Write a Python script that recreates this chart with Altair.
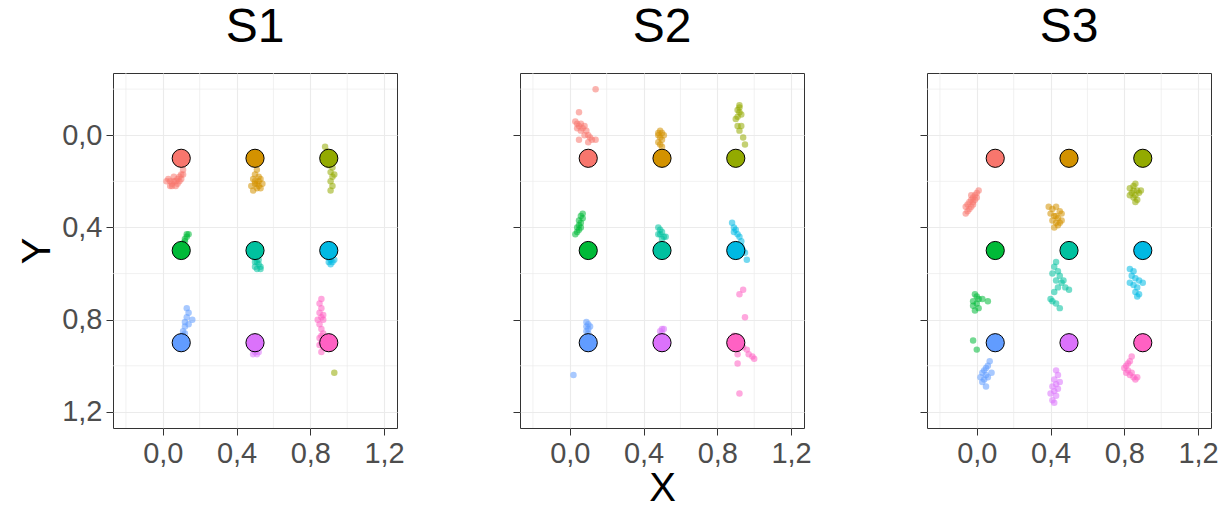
import altair as alt
import pandas as pd

GROUPS = ["A", "B", "C", "D", "E", "F", "G", "H", "I"]
COLORS = ["#F8766D", "#D39200", "#93AA00", "#00BA38", "#00C19F",
          "#00B9E3", "#619CFF", "#DB72FB", "#FF61C3"]
TARGET_X = [0.1, 0.5, 0.9, 0.1, 0.5, 0.9, 0.1, 0.5, 0.9]
TARGET_Y = [0.1, 0.1, 0.1, 0.5, 0.5, 0.5, 0.9, 0.9, 0.9]
PANELS = ["S1", "S2", "S3"]
TICKS = [0.0, 0.4, 0.8, 1.2]
MINOR = [-0.2, 0.2, 0.6, 1.0]
DOMAIN = [-0.27, 1.27]

# ---- S1 observed points (x, y) per target group ----
S1_A = [(0.11, 0.15), (0.10, 0.17), (0.09, 0.18), (0.08, 0.19), (0.06, 0.20), (0.05, 0.21),
        (0.04, 0.20), (0.03, 0.19), (0.05, 0.22), (0.07, 0.22), (0.09, 0.20), (0.10, 0.19),
        (0.06, 0.18), (0.08, 0.21), (0.04, 0.22), (0.02, 0.20), (0.07, 0.20), (0.11, 0.17)]
S1_B = [(0.51, 0.15), (0.50, 0.17), (0.49, 0.19), (0.50, 0.21), (0.52, 0.20), (0.53, 0.19),
        (0.48, 0.22), (0.51, 0.23), (0.54, 0.21), (0.52, 0.18), (0.49, 0.24), (0.53, 0.23),
        (0.50, 0.20), (0.51, 0.21), (0.52, 0.22)]
S1_C = [(0.88, 0.05), (0.89, 0.07), (0.90, 0.09), (0.91, 0.12), (0.92, 0.14), (0.91, 0.16),
        (0.92, 0.18), (0.91, 0.20), (0.92, 0.22), (0.91, 0.24), (0.90, 0.13), (0.93, 0.17),
        (0.92, 0.12), (0.93, 1.03)]
S1_D = [(0.14, 0.43), (0.13, 0.44), (0.12, 0.46), (0.11, 0.47), (0.12, 0.45), (0.10, 0.48),
        (0.13, 0.43), (0.11, 0.49)]
S1_E = [(0.50, 0.53), (0.51, 0.55), (0.52, 0.56), (0.50, 0.57), (0.53, 0.58), (0.51, 0.58),
        (0.52, 0.54), (0.53, 0.57), (0.50, 0.55)]
S1_F = [(0.90, 0.53), (0.91, 0.54), (0.92, 0.55), (0.90, 0.55), (0.93, 0.54), (0.91, 0.56)]
S1_G = [(0.11, 0.87), (0.11, 0.85), (0.12, 0.83), (0.12, 0.81), (0.13, 0.79), (0.14, 0.77),
        (0.13, 0.75), (0.16, 0.80), (0.14, 0.82), (0.12, 0.86)]
S1_H = [(0.49, 0.93), (0.50, 0.94), (0.51, 0.95), (0.49, 0.95), (0.50, 0.92), (0.52, 0.94)]
S1_I = [(0.86, 0.71), (0.85, 0.73), (0.86, 0.75), (0.85, 0.77), (0.86, 0.79), (0.87, 0.80),
        (0.85, 0.82), (0.86, 0.84), (0.87, 0.86), (0.85, 0.88), (0.86, 0.90), (0.87, 0.92),
        (0.86, 0.94), (0.88, 0.91), (0.87, 0.78), (0.84, 0.80), (0.86, 0.87), (0.85, 0.91)]

# ---- S2 ----
S2_A = [(0.14, -0.20), (0.05, -0.10), (0.03, -0.06), (0.04, -0.05), (0.05, -0.04), (0.06, -0.05),
        (0.07, -0.03), (0.08, -0.04), (0.09, -0.02), (0.06, -0.02), (0.10, 0.00), (0.11, 0.01),
        (0.12, 0.02), (0.14, 0.02), (0.05, 0.02), (0.10, 0.03), (0.08, 0.00), (0.04, -0.03)]
S2_B = [(0.49, -0.02), (0.50, -0.01), (0.48, 0.00), (0.49, 0.01), (0.50, 0.02), (0.48, 0.03),
        (0.49, 0.04), (0.50, 0.05), (0.51, 0.00), (0.48, -0.01)]
S2_C = [(0.92, -0.13), (0.91, -0.11), (0.92, -0.10), (0.91, -0.08), (0.90, -0.07), (0.93, -0.09),
        (0.91, -0.04), (0.93, -0.04), (0.92, -0.02), (0.94, 0.01), (0.95, 0.04), (0.92, -0.12)]
S2_D = [(0.07, 0.34), (0.06, 0.35), (0.07, 0.36), (0.05, 0.37), (0.06, 0.38), (0.05, 0.39),
        (0.04, 0.40), (0.05, 0.41), (0.04, 0.42), (0.03, 0.43), (0.06, 0.40)]
S2_E = [(0.48, 0.40), (0.49, 0.41), (0.50, 0.42), (0.48, 0.43), (0.51, 0.44), (0.50, 0.45),
        (0.52, 0.44), (0.49, 0.43)]
S2_F = [(0.88, 0.38), (0.89, 0.40), (0.90, 0.41), (0.91, 0.43), (0.92, 0.44), (0.93, 0.46),
        (0.93, 0.48), (0.94, 0.50), (0.95, 0.51), (0.96, 0.54), (0.89, 0.42)]
S2_G = [(0.09, 0.81), (0.10, 0.82), (0.09, 0.83), (0.10, 0.84), (0.09, 0.85), (0.10, 0.86),
        (0.11, 0.83), (0.02, 1.04)]
S2_H = [(0.50, 0.84), (0.51, 0.84), (0.49, 0.85), (0.50, 0.86)]
S2_I = [(0.94, 0.67), (0.92, 0.69), (0.95, 0.79), (0.89, 0.87), (0.91, 0.88), (0.92, 0.91),
        (0.94, 0.92), (0.96, 0.93), (0.97, 0.95), (0.99, 0.96), (1.00, 0.97), (0.91, 0.95),
        (0.91, 0.99), (0.92, 1.12), (0.93, 0.90)]

# ---- S3 ----
S3_A = [(0.01, 0.24), (0.00, 0.25), (-0.01, 0.26), (-0.02, 0.27), (-0.03, 0.28), (-0.04, 0.29),
        (-0.05, 0.30), (-0.06, 0.31), (-0.05, 0.33), (-0.04, 0.32), (-0.02, 0.30), (-0.01, 0.28),
        (-0.03, 0.31), (0.00, 0.27), (-0.06, 0.34), (-0.03, 0.26), (-0.02, 0.29)]
S3_B = [(0.39, 0.31), (0.41, 0.32), (0.43, 0.31), (0.45, 0.33), (0.40, 0.34), (0.42, 0.35),
        (0.44, 0.36), (0.46, 0.34), (0.41, 0.37), (0.43, 0.38), (0.44, 0.39), (0.42, 0.40),
        (0.46, 0.37), (0.43, 0.35), (0.45, 0.38)]
S3_C = [(0.86, 0.21), (0.85, 0.22), (0.83, 0.23), (0.87, 0.24), (0.84, 0.25), (0.86, 0.26),
        (0.88, 0.25), (0.85, 0.27), (0.87, 0.28), (0.83, 0.26), (0.86, 0.29), (0.89, 0.24),
        (0.85, 0.24)]
S3_D = [(-0.01, 0.69), (0.00, 0.70), (0.01, 0.71), (-0.02, 0.72), (0.03, 0.71), (0.06, 0.72),
        (0.00, 0.73), (-0.02, 0.74), (0.01, 0.75), (-0.01, 0.76), (-0.02, 0.89), (0.00, 0.93)]
S3_E = [(0.43, 0.55), (0.42, 0.57), (0.44, 0.59), (0.41, 0.60), (0.45, 0.61), (0.43, 0.63),
        (0.46, 0.64), (0.48, 0.66), (0.44, 0.66), (0.42, 0.68), (0.40, 0.71), (0.41, 0.72),
        (0.43, 0.73), (0.45, 0.75), (0.47, 0.63), (0.50, 0.67)]
S3_F = [(0.83, 0.58), (0.85, 0.59), (0.84, 0.61), (0.86, 0.62), (0.88, 0.63), (0.83, 0.64),
        (0.85, 0.65), (0.87, 0.66), (0.86, 0.68), (0.88, 0.69), (0.87, 0.70), (0.90, 0.64)]
S3_G = [(0.07, 0.98), (0.06, 1.00), (0.05, 1.01), (0.04, 1.02), (0.03, 1.03), (0.05, 1.04),
        (0.02, 1.05), (0.04, 1.06), (0.06, 1.05), (0.03, 1.07), (0.05, 1.09), (0.08, 1.03)]
S3_H = [(0.43, 1.02), (0.44, 1.04), (0.42, 1.06), (0.43, 1.08), (0.41, 1.09), (0.44, 1.10),
        (0.42, 1.11), (0.40, 1.12), (0.43, 1.13), (0.41, 1.15), (0.42, 1.16), (0.45, 1.07)]
S3_I = [(0.84, 0.96), (0.83, 0.98), (0.82, 0.99), (0.81, 1.00), (0.80, 1.01), (0.82, 1.02),
        (0.84, 1.03), (0.83, 1.04), (0.85, 1.05), (0.87, 1.05), (0.81, 1.03), (0.86, 1.06)]

OBS = {
    "S1": [S1_A, S1_B, S1_C, S1_D, S1_E, S1_F, S1_G, S1_H, S1_I],
    "S2": [S2_A, S2_B, S2_C, S2_D, S2_E, S2_F, S2_G, S2_H, S2_I],
    "S3": [S3_A, S3_B, S3_C, S3_D, S3_E, S3_F, S3_G, S3_H, S3_I],
}

FONT = "Liberation Sans"
LABEL_EXPR = "replace(format(datum.value, '.1f'), '.', ',')"

targets = pd.DataFrame({"x": TARGET_X, "y": TARGET_Y, "g": GROUPS})
minor_df = pd.DataFrame({"x": MINOR, "y": MINOR})
color_scale = alt.Scale(domain=GROUPS, range=COLORS)


def panel(name, first, middle):
    rows = []
    for g, pts in zip(GROUPS, OBS[name]):
        for (px, py) in pts:
            rows.append({"x": px, "y": py, "g": g})
    obs = pd.DataFrame(rows)

    xs = alt.Scale(domain=DOMAIN, nice=False, zero=False)
    ys = alt.Scale(domain=DOMAIN, nice=False, zero=False, reverse=True)

    xaxis = alt.Axis(values=TICKS, labelExpr=LABEL_EXPR, grid=True,
                     title="X" if middle else None, titlePadding=0)
    if first:
        yaxis = alt.Axis(values=TICKS, labelExpr=LABEL_EXPR, grid=True, title="Y")
    else:
        yaxis = alt.Axis(values=TICKS, labels=False, grid=True, title=None)

    vgrid = alt.Chart(minor_df).mark_rule(color="#EBEBEB", strokeWidth=0.7).encode(
        x=alt.X("x:Q", scale=xs, axis=xaxis))
    hgrid = alt.Chart(minor_df).mark_rule(color="#EBEBEB", strokeWidth=0.7).encode(
        y=alt.Y("y:Q", scale=ys, axis=yaxis))
    pts = alt.Chart(obs).mark_point(filled=True, size=42, fillOpacity=0.55,
                                    strokeOpacity=0.75, strokeWidth=0.8).encode(
        x=alt.X("x:Q", scale=xs, axis=xaxis),
        y=alt.Y("y:Q", scale=ys, axis=yaxis),
        color=alt.Color("g:N", scale=color_scale, legend=None),
    )
    tg = alt.Chart(targets).mark_point(filled=True, size=330, opacity=1,
                                       stroke="black", strokeWidth=1).encode(
        x=alt.X("x:Q", scale=xs, axis=xaxis),
        y=alt.Y("y:Q", scale=ys, axis=yaxis),
        fill=alt.Fill("g:N", scale=color_scale, legend=None),
    )
    return alt.layer(vgrid, hgrid, pts, tg).properties(
        width=284, height=355,
        title=alt.TitleParams(text=name, fontSize=48, font=FONT, fontWeight="normal",
                              color="black", anchor="middle", offset=21),
    )


chart = alt.hconcat(
    panel("S1", True, False), panel("S2", False, True), panel("S3", False, False),
    spacing=123, bounds="flush",
    padding={"left": 17, "top": 3, "right": 0, "bottom": 0},
    background="white",
).configure_view(
    stroke="#333333", strokeWidth=1
).configure_axis(
    domain=False, tickColor="#333333", tickSize=7, tickWidth=1,
    labelColor="#4D4D4D", labelFontSize=29, labelFont=FONT, labelPadding=4,
    titleFont=FONT, titleFontSize=40, titleFontWeight="normal", titleColor="black",
    gridColor="#EBEBEB", gridWidth=1.1,
)

chart.save("out.html", embed_options={"renderer": "svg", "actions": False})
